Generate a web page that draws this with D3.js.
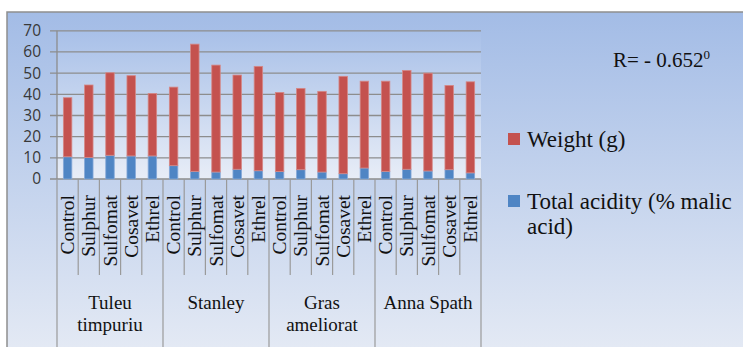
<!DOCTYPE html>
<html>
<head>
<meta charset="utf-8">
<script src="https://cdn.jsdelivr.net/npm/d3@7"></script>
<style>
  html, body { margin: 0; padding: 0; background: #ffffff; }
  svg { display: block; }
  .serif { font-family: "Liberation Serif", "Times New Roman", Times, Tinos, "Nimbus Roman", FreeSerif, "DejaVu Serif", "Noto Serif", serif; }
</style>
</head>
<body>
<svg id="chart" width="743" height="347"></svg>
<script>
// Cultivars (two-line labels) and treatments per cultivar
const cultivars = [["Tuleu", "timpuriu"], ["Stanley"], ["Gras", "ameliorat"], ["Anna Spath"]];
const treatments = ["Control", "Sulphur", "Sulfomat", "Cosavet", "Ethrel"];

// Series values, in cultivar order, five treatments each
const acidity = [10.5, 10.2, 11.2, 10.9, 10.9,
                 6.3, 3.6, 3.3, 4.6, 3.9,
                 3.5, 4.4, 3.3, 2.5, 5.2,
                 3.6, 4.6, 3.8, 4.4, 2.9];
const weight = [27.9, 34.2, 39.0, 37.9, 29.5,
                37.1, 60.1, 50.5, 44.5, 49.3,
                37.4, 38.4, 38.1, 46.0, 41.0,
                42.6, 46.7, 46.2, 39.8, 43.0];

const yTicks = [0, 10, 20, 30, 40, 50, 60, 70];
const seriesNames = ["Weight (g)", "Total acidity (% malic", "acid)"];
const corrLabel = "R= - 0.652";
const corrSup = "0";

const rows = acidity.map((a, i) => ({
  key: i,
  cultivar: Math.floor(i / treatments.length),
  treatment: treatments[i % treatments.length],
  acidity: a,
  weight: weight[i]
}));

const svg = d3.select("#chart");
const defs = svg.append("defs");

function vGrad(id, y1, y2, c1, c2) {
  const g = defs.append("linearGradient")
    .attr("id", id).attr("gradientUnits", "userSpaceOnUse")
    .attr("x1", 0).attr("x2", 0).attr("y1", y1).attr("y2", y2);
  g.append("stop").attr("offset", 0).attr("stop-color", c1);
  g.append("stop").attr("offset", 1).attr("stop-color", c2);
}
vGrad("bgGrad", 12, 347, "#a3bce6", "#e3e9f4");
vGrad("plotGrad", 31, 179, "#a8c0e8", "#e8edf7");

// chart frame
svg.append("rect")
  .attr("x", 7).attr("y", 12).attr("width", 745).attr("height", 345)
  .attr("fill", "url(#bgGrad)")
  .attr("stroke", "#8e8e8e").attr("stroke-width", 1.5);

const left = 57, right = 481, bottom = 179;
const x = d3.scaleBand()
  .domain(rows.map(d => d.key))
  .range([left, right])
  .paddingInner(0.6).paddingOuter(0.3);
const y = d3.scaleLinear().domain([0, 70]).range([bottom, 30.8]);

// plot area background
svg.append("rect")
  .attr("x", left).attr("y", y(70))
  .attr("width", right - left).attr("height", bottom - y(70))
  .attr("fill", "url(#plotGrad)");

// horizontal gridlines (with short outer ticks)
svg.append("g").selectAll("line").data(yTicks).join("line")
  .attr("x1", left - 7).attr("x2", right)
  .attr("y1", d => y(d)).attr("y2", d => y(d))
  .attr("stroke", "#8d8d8d").attr("stroke-width", 1.3);

// y tick labels
const yAxis = svg.append("g")
  .attr("transform", `translate(${left},0)`)
  .call(d3.axisLeft(y).tickValues(yTicks).tickSize(0).tickPadding(16));
yAxis.select(".domain").remove();
yAxis.selectAll("text")
  .attr("font-family", "'Open Sans', 'Liberation Sans', Arial, sans-serif")
  .attr("font-size", 15.5).attr("fill", "#383838");

// stacked bars
const stack = d3.stack().keys(["acidity", "weight"]);
const layers = stack(rows);
const colors = { acidity: "#4f85c4", weight: "#c4524f" };
const edges = { acidity: "#86a9d8", weight: "#d58886" };

svg.append("g").selectAll("g").data(layers).join("g")
  .attr("fill", d => colors[d.key])
  .attr("stroke", d => edges[d.key])
  .attr("stroke-width", 0.8)
  .selectAll("rect").data(d => d).join("rect")
  .attr("x", d => x(d.data.key))
  .attr("width", x.bandwidth())
  .attr("y", d => y(d[1]))
  .attr("height", d => y(d[0]) - y(d[1]));

// y axis line
svg.append("line")
  .attr("x1", left).attr("x2", left)
  .attr("y1", y(70)).attr("y2", bottom)
  .attr("stroke", "#8d8d8d").attr("stroke-width", 1.3);

// category separators: short between treatments, long between cultivars
const step = x.step();
const boundaries = d3.range(rows.length + 1);
svg.append("g").selectAll("line").data(boundaries).join("line")
  .attr("x1", i => left + i * step).attr("x2", i => left + i * step)
  .attr("y1", bottom)
  .attr("y2", i => (i % treatments.length === 0) ? 347 : 275)
  .attr("stroke", "#9a9a9a").attr("stroke-width", 1.2);

// treatment labels (rotated)
svg.append("g").selectAll("text").data(rows).join("text")
  .attr("class", "serif")
  .attr("transform", d => `translate(${x(d.key) + x.bandwidth() / 2 + 6.5},195) rotate(-90)`)
  .attr("text-anchor", "end")
  .attr("font-size", 19.5).attr("fill", "#111")
  .text(d => d.treatment);

// cultivar labels
const groupW = step * treatments.length;
const gl = svg.append("g").selectAll("text").data(cultivars).join("text")
  .attr("class", "serif")
  .attr("text-anchor", "middle")
  .attr("font-size", 19).attr("fill", "#111");
gl.selectAll("tspan").data((d, i) => d.map((t, j) => ({ t, j, i }))).join("tspan")
  .attr("x", d => left + groupW * (d.i + 0.5))
  .attr("y", d => 309 + d.j * 22)
  .text(d => d.t);

// correlation note
const note = svg.append("text")
  .attr("class", "serif")
  .attr("x", 613).attr("y", 67)
  .attr("font-size", 21).attr("fill", "#111");
note.append("tspan").text(corrLabel);
note.append("tspan").attr("font-size", 13).attr("dy", -8).text(corrSup);

// legend
const legend = svg.append("g");
legend.append("rect").attr("x", 508).attr("y", 133).attr("width", 12).attr("height", 12)
  .attr("fill", colors.weight);
legend.append("text").attr("class", "serif").attr("x", 527).attr("y", 147)
  .attr("font-size", 23).attr("fill", "#111")
  .text(seriesNames[0]);
legend.append("rect").attr("x", 508).attr("y", 195).attr("width", 12).attr("height", 12)
  .attr("fill", colors.acidity);
const lt = legend.append("text").attr("class", "serif")
  .attr("font-size", 23).attr("fill", "#111");
lt.append("tspan").attr("x", 527).attr("y", 209).text(seriesNames[1]);
lt.append("tspan").attr("x", 527).attr("y", 234).text(seriesNames[2]);
</script>
</body>
</html>
